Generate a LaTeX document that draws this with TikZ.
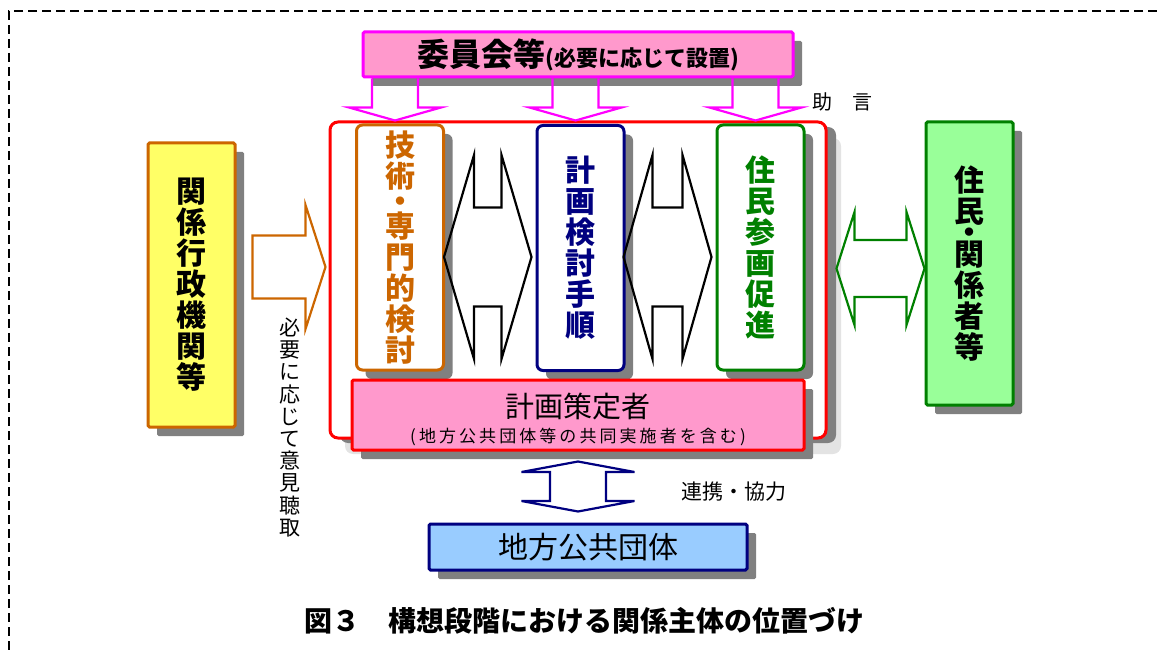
\documentclass[tikz,border=0pt]{standalone}
\usepackage{fontspec}
\setmainfont{Noto Sans CJK JP}
\usetikzlibrary{calc, shadows}

\definecolor{pinkfill}{HTML}{FF99CC}
\definecolor{advmagenta}{HTML}{FF00FF}
\definecolor{framered}{HTML}{FF0000}
\definecolor{techorange}{HTML}{CC6600}
\definecolor{navy}{HTML}{000080}
\definecolor{resgreen}{HTML}{008000}
\definecolor{yellowfill}{HTML}{FFFF66}
\definecolor{greenfill}{HTML}{99FF99}
\definecolor{bluefill}{HTML}{99CCFF}
\definecolor{shadowgray}{HTML}{808080}
\definecolor{paleshadow}{HTML}{E3E3E3}

% block arrows: style, first point, second point, head length, head half width, shaft half width
\newcommand{\hdblarrow}[6]{%
  \draw[#1] let \p1=#2, \p2=#3 in
    (\x1,\y1) -- (\x1+#4,\y1+#5) -- (\x1+#4,\y1+#6) -- (\x2-#4,\y1+#6) -- (\x2-#4,\y1+#5)
    -- (\x2,\y1) -- (\x2-#4,\y1-#5) -- (\x2-#4,\y1-#6) -- (\x1+#4,\y1-#6) -- (\x1+#4,\y1-#5) -- cycle;}
\newcommand{\vdblarrow}[6]{%
  \draw[#1] let \p1=#2, \p2=#3 in
    (\x1,\y1) -- (\x1+#5,\y1-#4) -- (\x1+#6,\y1-#4) -- (\x1+#6,\y2+#4) -- (\x1+#5,\y2+#4)
    -- (\x1,\y2) -- (\x1-#5,\y2+#4) -- (\x1-#6,\y2+#4) -- (\x1-#6,\y1-#4) -- (\x1-#5,\y1-#4) -- cycle;}
\newcommand{\rblockarrow}[6]{%
  \draw[#1] let \p1=#2, \p2=#3 in
    (\x1,\y1+#6) -- (\x2-#4,\y1+#6) -- (\x2-#4,\y1+#5) -- (\x2,\y1) -- (\x2-#4,\y1-#5)
    -- (\x2-#4,\y1-#6) -- (\x1,\y1-#6) -- cycle;}
\newcommand{\dblockarrow}[6]{%
  \draw[#1] let \p1=#2, \p2=#3 in
    (\x1-#6,\y1) -- (\x1-#6,\y2+#4) -- (\x1-#5,\y2+#4) -- (\x1,\y2) -- (\x1+#5,\y2+#4)
    -- (\x1+#6,\y2+#4) -- (\x1+#6,\y1);}

\begin{document}
\begin{tikzpicture}[x=1pt, y=-1pt,
    shadowed/.style={drop shadow={shadow xshift=9pt, shadow yshift=-9pt, fill=shadowgray, opacity=1}},
    panel/.style={draw, line width=3pt, inner sep=0pt, rounded corners=1.5pt, shadowed},
    column/.style={panel, rounded corners=6pt, fill=white, minimum width=87pt, minimum height=245pt,
      align=center, font=\fontsize{30}{31}\selectfont\bfseries},
    pillar/.style={panel, minimum width=87pt, align=center, font=\fontsize{30}{31}\selectfont\bfseries},
    blockarrow/.style={line width=2.2pt, line join=miter}]
    \useasboundingbox (0,0) rectangle (1157,655);

    % outer dashed frame
    \draw[line width=2pt, dash pattern=on 9pt off 5pt] (1157,11) -- (9,11) -- (9,655);

    % committee
    \node[panel, draw=advmagenta, fill=pinkfill, minimum width=430pt, minimum height=45pt] (committee) at (578,54.5)
      {{\fontsize{32}{32}\selectfont\bfseries 委員会等}{\fontsize{22}{22}\selectfont\bfseries (必要に応じて設置)}};

    % planning body
    \node[draw=framered, line width=3pt, rounded corners=8pt, fill=white, minimum width=496pt, minimum height=316pt,
      drop shadow={shadow xshift=15pt, shadow yshift=-16pt, fill=paleshadow, opacity=1},
      drop shadow={shadow xshift=10pt, shadow yshift=-5pt, fill=shadowgray, opacity=1}] (frame) at (578,280) {};
    \node[column, draw=techorange, text=techorange] (tech) at (400,247.5) {技\\術\\[-6pt]・\\[-6pt]専\\門\\的\\検\\討};
    \node[column, draw=navy, text=navy] (proc) at (580.5,248) {計\\画\\検\\討\\手\\順};
    \node[column, draw=resgreen, text=resgreen] (part) at (760.5,247.5) {住\\民\\参\\画\\促\\進};
    \node[panel, draw=framered, fill=pinkfill, minimum width=452pt, minimum height=70pt] (planner) at (578,415) {};
    \node[font=\fontsize{29}{29}\selectfont] (plannertitle) at (578,406) {計画策定者};
    \node[font=\fontsize{17}{17}\selectfont\addfontfeatures{LetterSpace=18}] (plannernote) at (578,437)
      {(地方公共団体等の共同実施者を含む)};

    % outside parties
    \node[panel, draw=navy, fill=bluefill, minimum width=318pt, minimum height=46pt,
      font=\fontsize{30}{30}\selectfont] (local) at (588,547) {地方公共団体};
    \node[pillar, draw=techorange, fill=yellowfill, minimum height=284pt] (admin) at (191.5,285)
      {関\\係\\行\\政\\機\\関\\等};
    \node[pillar, draw=resgreen, fill=greenfill, minimum height=283pt] (resid) at (969.5,263.5)
      {住\\民\\[-9.5pt]・\\[-9.5pt]関\\係\\者\\等};

    % arrows
    \foreach \col in {tech, proc, part}{
      \dblockarrow{blockarrow, draw=advmagenta}{($(committee.south -| \col.north)+(-5,0)$)}{(frame.north)}{13pt}{46pt}{23pt}
    }
    \hdblarrow{blockarrow, draw=black}{($(tech.east)+(-1,9.5)$)}{($(proc.west)+(-4,0)$)}{30pt}{102pt}{49.5pt}
    \hdblarrow{blockarrow, draw=black}{($(proc.east)+(-2,9)$)}{($(part.west)+(-4,0)$)}{29pt}{102pt}{49.5pt}
    \hdblarrow{blockarrow, draw=resgreen}{($(frame.east)+(9,-11.5)$)}{(resid.west)}{18pt}{56.5pt}{28.5pt}
    \rblockarrow{blockarrow, draw=techorange}{($(admin.east)+(16,-18)$)}{($(frame.west)+(-3,0)$)}{20pt}{62pt}{31.5pt}
    \vdblarrow{blockarrow, draw=navy}{($(planner.south)+(0,10)$)}{($(local.north)+(0,-11)$)}{10.5pt}{56.5pt}{28pt}

    % labels
    \node[font=\fontsize{20}{20}\selectfont] (advice) at (842,102) {助　言};
    \node[font=\fontsize{21}{21}\selectfont] (coop) at (734,492) {連携・協力};
    \node[align=center, font=\fontsize{21}{22.2}\selectfont] (hearing) at (290,427.5) {必\\要\\に\\応\\じ\\て\\意\\見\\聴\\取};
    \node[font=\fontsize{28}{28}\selectfont\bfseries] (caption) at (584,621) {図３　構想段階における関係主体の位置づけ};
\end{tikzpicture}
\end{document}
